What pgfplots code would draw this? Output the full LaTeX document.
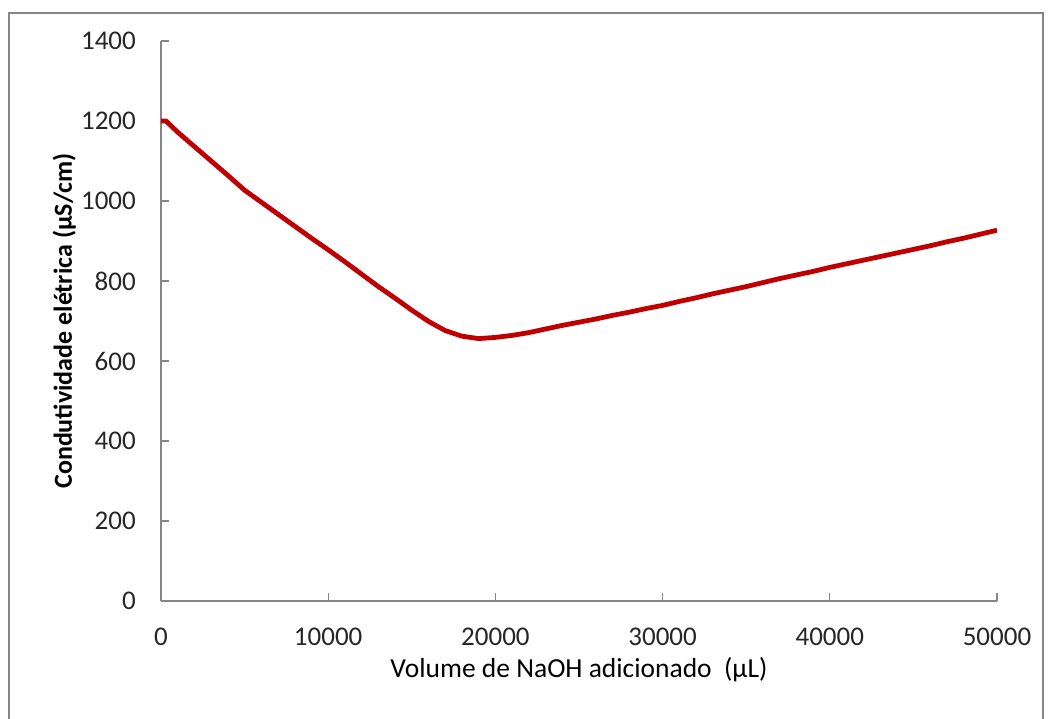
\documentclass[border=0pt]{standalone}
\usepackage{fontspec}
\setmainfont{Carlito}
\usepackage{pgfplots}
\pgfplotsset{compat=1.18}
\definecolor{axgray}{HTML}{868686}
\definecolor{linered}{HTML}{C00000}
\begin{document}
\begin{tikzpicture}
\useasboundingbox (0pt,0pt) rectangle (1051pt,-719pt);
\draw[axgray, line width=1.5pt] (9pt,-725pt) -- (9pt,-13pt) -- (1043pt,-13pt) -- (1043pt,-725pt);
\begin{axis}[
  at={(161pt,-601pt)}, anchor=south west,
  scale only axis, width=836pt, height=560pt,
  xmin=0, xmax=50000, ymin=0, ymax=1400,
  axis x line*=bottom, axis y line*=left,
  axis line style={axgray, line width=1.2pt, -},
  every tick/.style={axgray, line width=1.2pt},
  major tick length=8pt,
  tick align=inside,
  xtick={0,10000,20000,30000,40000,50000},
  ytick={0,200,400,600,800,1000,1200,1400},
  scaled ticks=false,
  /pgf/number format/assume math mode=true,
  /pgf/number format/set thousands separator={},
  tick label style={font=\fontsize{27}{32}\selectfont, text=black!85, inner sep=0pt},
  yticklabel style={anchor=east, xshift=-25pt},
  xticklabel style={anchor=north, yshift=-27pt},
  xlabel={Volume de NaOH adicionado\ \ (µL)},
  ylabel={\bfseries Condutividade elétrica (µS/cm)},
  xlabel style={font=\fontsize{27.5}{32}\selectfont, text=black, at={(axis description cs:0.5,0)}, anchor=base, yshift=-76pt},
  ylabel style={font=\fontsize{26}{30}\selectfont, text=black, at={(axis description cs:0,0.5)}, anchor=base, yshift=89pt},
]
\addplot[linered, line width=4.8pt, line join=round] table {
x y
0 1200
300 1200
1000 1172
2000 1136
3000 1100
4000 1064
5000 1027
6000 997
7000 967
8000 937
9000 907
10000 878
11000 848
12000 817
13000 786
14000 757
15000 727
16000 699
17000 676
18000 662
19000 656
20000 659
21000 664
22000 671
23000 680
24000 689
25000 697
26000 705
27000 714
28000 722
29000 731
30000 739
31000 749
32000 758
33000 768
34000 777
35000 786
36000 796
37000 806
38000 815
39000 824
40000 834
41000 843
42000 852
43000 861
44000 870
45000 879
46000 888
47000 898
48000 907
49000 917
50000 927
};
\end{axis}
\end{tikzpicture}
\end{document}
